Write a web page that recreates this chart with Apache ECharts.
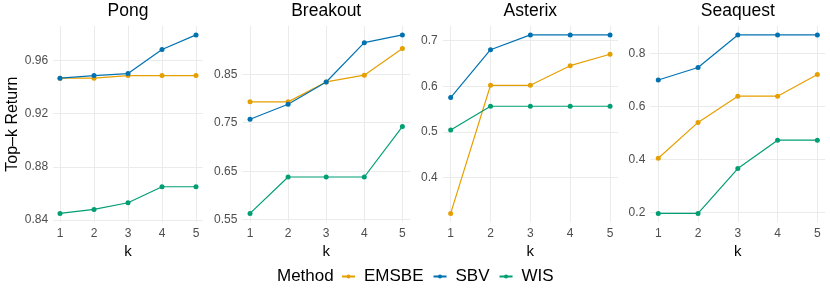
<!DOCTYPE html>
<html><head><meta charset="utf-8">
<script src="https://cdn.jsdelivr.net/npm/echarts@6/dist/echarts.min.js"></script>
<style>html,body{margin:0;padding:0;background:#fff}#c{width:830px;height:288px}</style>
</head><body><div id="c"></div>
<script>
const games = ["Pong", "Breakout", "Asterix", "Seaquest"];
const methods = ["EMSBE", "SBV", "WIS"];
const colors = ["#E69F00", "#0072B2", "#009E73"];
const kValues = [1, 2, 3, 4, 5];

const pongEMSBE = [0.9465, 0.9465, 0.9485, 0.9485, 0.9485];
const pongSBV   = [0.9465, 0.9485, 0.950, 0.968, 0.979];
const pongWIS   = [0.845, 0.848, 0.853, 0.865, 0.865];

const breakoutEMSBE = [0.793, 0.793, 0.834, 0.848, 0.903];
const breakoutSBV   = [0.757, 0.788, 0.834, 0.915, 0.931];
const breakoutWIS   = [0.563, 0.638, 0.638, 0.638, 0.742];

const asterixEMSBE = [0.321, 0.602, 0.602, 0.645, 0.670];
const asterixSBV   = [0.575, 0.680, 0.7125, 0.7125, 0.7125];
const asterixWIS   = [0.504, 0.556, 0.556, 0.556, 0.556];

const seaquestEMSBE = [0.405, 0.540, 0.639, 0.639, 0.721];
const seaquestSBV   = [0.700, 0.747, 0.870, 0.870, 0.870];
const seaquestWIS   = [0.197, 0.197, 0.366, 0.473, 0.473];

const pongTicks = [0.84, 0.88, 0.92, 0.96];
const breakoutTicks = [0.55, 0.65, 0.75, 0.85];
const asterixTicks = [0.4, 0.5, 0.6, 0.7];
const seaquestTicks = [0.2, 0.4, 0.6, 0.8];

const seriesData = [
  [pongEMSBE, pongSBV, pongWIS],
  [breakoutEMSBE, breakoutSBV, breakoutWIS],
  [asterixEMSBE, asterixSBV, asterixWIS],
  [seaquestEMSBE, seaquestSBV, seaquestWIS]
];
const yTicks = [pongTicks, breakoutTicks, asterixTicks, seaquestTicks];
const decimals = [2, 2, 1, 1];

(function () {
const panels = [
  {left: 53.2, right: 202.8},
  {left: 242.4, right: 410},
  {left: 442.7, right: 618},
  {left: 650.3, right: 825.3}
];
const gTop = 26, gBottom = 222.3;
const font = "Liberation Sans, Arial, sans-serif";

const grids = [], xAxes = [], yAxes = [], series = [], titles = [];
panels.forEach((p, i) => {
  grids.push({left: p.left, top: gTop, width: p.right - p.left, height: gBottom - gTop});
  titles.push({text: games[i], left: (p.left + p.right) / 2, top: 2, textAlign: 'center', padding: 0,
    textStyle: {fontFamily: font, fontSize: 17.5, fontWeight: 'normal', color: '#000'}});
  xAxes.push({
    type: 'value', gridIndex: i, min: 0.8, max: 5.2,
    name: 'k', nameLocation: 'middle', nameGap: 14,
    nameTextStyle: {fontFamily: font, fontSize: 15, color: '#000'},
    axisLine: {show: false},
    axisTick: {show: false, customValues: kValues},
    axisLabel: {customValues: kValues, margin: 5, fontFamily: font, fontSize: 12, color: '#4d4d4d'},
    splitLine: {show: true, lineStyle: {color: '#ebebeb', width: 1}}
  });
  const all = [].concat(...seriesData[i]);
  const lo = Math.min(...all), hi = Math.max(...all), pad = (hi - lo) * 0.05;
  yAxes.push({
    type: 'value', gridIndex: i, min: lo - pad, max: hi + pad,
    name: i === 0 ? 'Top\u2013k Return' : '', nameLocation: 'middle', nameGap: 33,
    nameTextStyle: {fontFamily: font, fontSize: 16, color: '#000'},
    axisLine: {show: false},
    axisTick: {show: false, customValues: yTicks[i]},
    axisLabel: {customValues: yTicks[i], margin: 5, fontFamily: font, fontSize: 12, color: '#4d4d4d',
      formatter: v => Number(v).toFixed(decimals[i])},
    splitLine: {show: true, lineStyle: {color: '#ebebeb', width: 1}}
  });
  methods.forEach((m, j) => {
    series.push({
      name: m, type: 'line', xAxisIndex: i, yAxisIndex: i,
      data: kValues.map((k, idx) => [k, seriesData[i][j][idx]]),
      symbol: 'circle', symbolSize: 5, color: colors[j],
      lineStyle: {width: 1.2, color: colors[j]}, itemStyle: {color: colors[j]},
      emphasis: {disabled: true}, animation: false, z: 3
    });
  });
});

const chart = echarts.init(document.getElementById('c'), null, {renderer: 'canvas'});
chart.setOption({
  backgroundColor: '#fff',
  animation: false,
  title: titles,
  grid: grids, xAxis: xAxes, yAxis: yAxes, series: series,
  legend: {
    data: methods, left: 341, top: 268, itemWidth: 13, itemHeight: 5, itemGap: 9,
    padding: 0,
    textStyle: {fontFamily: font, fontSize: 17, color: '#000', padding: [0, 0, 0, 4]}
  },
  graphic: [{
    type: 'text', left: 277, top: 268,
    style: {text: 'Method', font: '17px ' + font, fill: '#000'}
  }]
});
})();
</script></body></html>
